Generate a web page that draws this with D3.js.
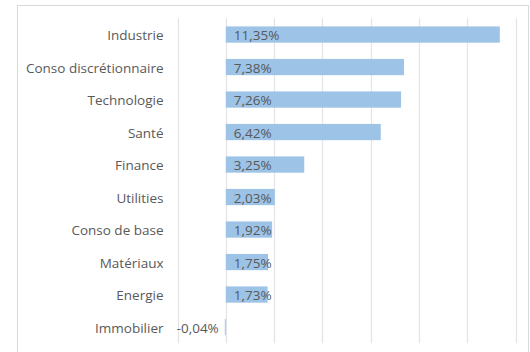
<!DOCTYPE html>
<html>
<head>
<meta charset="utf-8">
<script src="https://cdn.jsdelivr.net/npm/d3@7"></script>
<style>
  html, body { margin: 0; padding: 0; background: #fff; }
  svg { display: block; }
  text { font-family: "Open Sans", "Noto Sans", sans-serif; fill: #595959; }
</style>
</head>
<body>
<svg id="chart" width="530" height="352"></svg>
<script>
// Sector performance (%)
const sectors = ["Industrie", "Conso discrétionnaire", "Technologie", "Santé", "Finance",
                 "Utilities", "Conso de base", "Matériaux", "Energie", "Immobilier"];
const values = [11.35, 7.38, 7.26, 6.42, 3.25, 2.03, 1.92, 1.75, 1.73, -0.04];
const gridTicks = [-2, 0, 2, 4, 6, 8, 10, 12];

const svg = d3.select("#chart");
const margin = { left: 177.5, right: 14.5, top: 18.3, bottom: 8.7 };
const W = 530, H = 352;

// chart frame
svg.append("rect")
  .attr("x", 17.5).attr("y", 5.5)
  .attr("width", 511).attr("height", 352)
  .attr("fill", "#fff").attr("stroke", "#d9d9d9").attr("stroke-width", 1);

const x = d3.scaleLinear().domain([-2, 12]).range([margin.left, W - margin.right]);
const y = d3.scaleBand().domain(sectors).range([margin.top, H - margin.bottom]).paddingInner(0.5).paddingOuter(0.25);

// vertical gridlines
svg.append("g").selectAll("line").data(gridTicks).join("line")
  .attr("x1", d => Math.round(x(d)) + 0.5).attr("x2", d => Math.round(x(d)) + 0.5)
  .attr("y1", margin.top).attr("y2", H - margin.bottom)
  .attr("stroke", "#e3e3e8").attr("stroke-width", 1.2);

// bars
svg.append("g").selectAll("rect").data(values).join("rect")
  .attr("x", d => Math.min(x(0), x(d)))
  .attr("y", (d, i) => y(sectors[i]))
  .attr("width", d => Math.abs(x(d) - x(0)))
  .attr("height", y.bandwidth())
  .attr("fill", "#9dc3e6");

// category labels
svg.append("g").selectAll("text").data(sectors).join("text")
  .attr("x", 163.5)
  .attr("y", d => y(d) + y.bandwidth() / 2)
  .attr("dy", "0.44em")
  .attr("text-anchor", "end")
  .attr("font-size", 13.5)
  .text(d => d);

// value labels at the bar base
const fmt = v => v.toFixed(2).replace(".", ",") + "%";
svg.append("g").selectAll("text").data(values).join("text")
  .attr("x", d => d >= 0 ? x(0) + 8 : x(0) - 7)
  .attr("y", (d, i) => y(sectors[i]) + y.bandwidth() / 2)
  .attr("dy", "0.44em")
  .attr("text-anchor", d => d >= 0 ? "start" : "end")
  .attr("font-size", 13.5)
  .text(fmt);
</script>
</body>
</html>
